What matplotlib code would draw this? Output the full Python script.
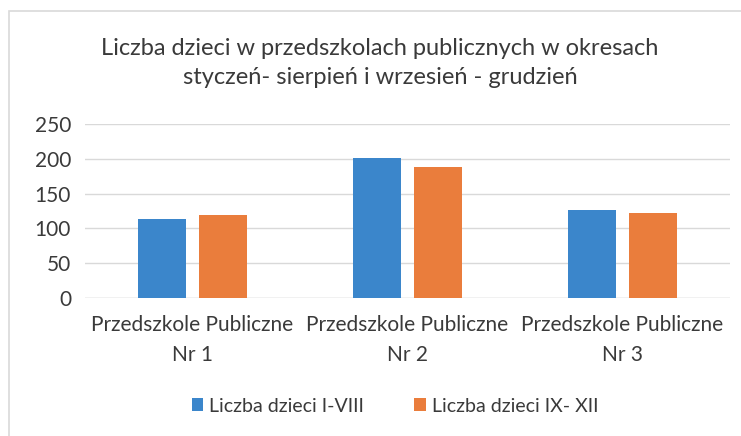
import matplotlib
matplotlib.use("Agg")
import matplotlib.pyplot as plt
import numpy as np
from matplotlib.patches import Rectangle

categories = ["Przedszkole Publiczne\nNr 1", "Przedszkole Publiczne\nNr 2", "Przedszkole Publiczne\nNr 3"]
series_names = ["Liczba dzieci I-VIII", "Liczba dzieci IX- XII"]
values_i_viii = [114, 201, 126]
values_ix_xii = [119, 188, 122]
yticks = [0, 50, 100, 150, 200, 250]
title = "Liczba dzieci w przedszkolach publicznych w okresach\nstyczeń- sierpień i wrzesień - grudzień"

plt.rcParams['font.family'] = ['Lato', 'DejaVu Sans']
text_color = '#3a3a3a'
blue = '#3b86cb'
orange = '#ea7d3c'

fig = plt.figure(figsize=(7.41, 4.36), dpi=100)
ax = fig.add_axes([85/741, 1-298/436, 645/741, 174/436])

x = np.arange(len(categories))
w = 0.225
gap = 0.056
ax.bar(x - (w+gap)/2, values_i_viii, width=w, color=blue, label=series_names[0], zorder=3)
ax.bar(x + (w+gap)/2, values_ix_xii, width=w, color=orange, label=series_names[1], zorder=3)

ax.set_xlim(-0.5, 2.5)
ax.set_ylim(0, 250)
ax.set_yticks(yticks)
ax.set_xticks(x)
ax.set_xticklabels(categories, fontsize=15, color=text_color, linespacing=1.65)
ax.tick_params(axis='y', labelsize=15, labelcolor=text_color, length=0, pad=10)
ax.tick_params(axis='x', length=0, pad=12)
ax.yaxis.grid(True, color='#d9d9d9', linewidth=1, zorder=0)
for s in ax.spines.values():
    s.set_visible(False)
ax.axhline(0, color='#d9d9d9', linewidth=1, zorder=1)

fig.text(380/741, 1-63/436, title, ha='center', va='center', fontsize=17, color=text_color, linespacing=1.5)

leg = fig.legend(loc='center', bbox_to_anchor=(395/741, 1-406/436), ncol=2, frameon=False,
                 fontsize=14, handlelength=0.6, handleheight=0.6, handletextpad=0.3, columnspacing=2.6)
for t in leg.get_texts():
    t.set_color(text_color)

fig.patches.append(Rectangle((9/741, -0.1), 1.1, 1-11/436+0.1, transform=fig.transFigure,
                             fill=False, edgecolor='#d9d9d9', linewidth=1.2))

fig.savefig("out.png", dpi=100)
